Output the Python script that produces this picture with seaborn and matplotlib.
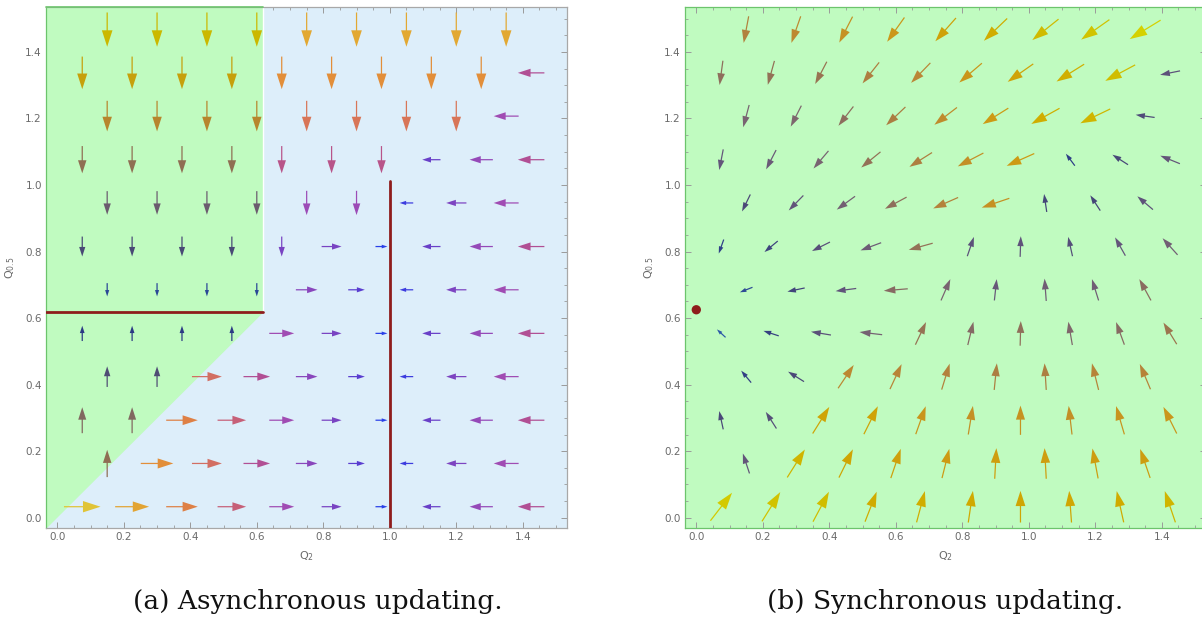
import numpy as np
import matplotlib
matplotlib.use("Agg")
import matplotlib.pyplot as plt
import seaborn as sns
from matplotlib.colors import LinearSegmentedColormap, Normalize
from matplotlib.ticker import MultipleLocator, FormatStrFormatter

# ---- grid of arrow centres (staggered rows) ----
row_y = [0.033, 0.163, 0.293, 0.424, 0.554, 0.685, 0.815, 0.946, 1.076, 1.207, 1.337, 1.467]
even_x = [0.075, 0.225, 0.375, 0.525, 0.675, 0.825, 0.975, 1.125, 1.275, 1.425]
odd_x = [0.15, 0.30, 0.45, 0.60, 0.75, 0.90, 1.05, 1.20, 1.35]

# ---- (a) asynchronous updating: arrow components per row (bottom -> top) ----
async_u = [
    [0.110, 0.102, 0.095, 0.086, 0.075, 0.060, 0.036, -0.055, -0.070, -0.080],
    [0.0, 0.098, 0.090, 0.080, 0.065, 0.050, -0.041, -0.061, -0.075],
    [0.0, 0.0, 0.095, 0.086, 0.075, 0.060, 0.036, -0.055, -0.070, -0.080],
    [0.0, 0.0, 0.090, 0.080, 0.065, 0.050, -0.041, -0.061, -0.075],
    [0.0, 0.0, 0.0, 0.0, 0.075, 0.060, 0.036, -0.055, -0.070, -0.080],
    [0.0, 0.0, 0.0, 0.0, 0.065, 0.050, -0.041, -0.061, -0.075],
    [0.0, 0.0, 0.0, 0.0, 0.0, 0.060, 0.036, -0.055, -0.070, -0.080],
    [0.0, 0.0, 0.0, 0.0, 0.0, 0.0, -0.041, -0.061, -0.075],
    [0.0, 0.0, 0.0, 0.0, 0.0, 0.0, 0.0, -0.055, -0.070, -0.080],
    [0.0, 0.0, 0.0, 0.0, 0.0, 0.0, 0.0, 0.0, -0.075],
    [0.0, 0.0, 0.0, 0.0, 0.0, 0.0, 0.0, 0.0, 0.0, -0.080],
    [0.0, 0.0, 0.0, 0.0, 0.0, 0.0, 0.0, 0.0, 0.0],
]
async_v = [
    [0.0] * 10,
    [0.082, 0.0, 0.0, 0.0, 0.0, 0.0, 0.0, 0.0, 0.0],
    [0.078, 0.078, 0.0, 0.0, 0.0, 0.0, 0.0, 0.0, 0.0, 0.0],
    [0.062, 0.062, 0.0, 0.0, 0.0, 0.0, 0.0, 0.0, 0.0],
    [0.046, 0.046, 0.046, 0.046, 0.0, 0.0, 0.0, 0.0, 0.0, 0.0],
    [-0.040, -0.040, -0.040, -0.040, 0.0, 0.0, 0.0, 0.0, 0.0],
    [-0.060, -0.060, -0.060, -0.060, -0.060, 0.0, 0.0, 0.0, 0.0, 0.0],
    [-0.071, -0.071, -0.071, -0.071, -0.073, -0.073, 0.0, 0.0, 0.0],
    [-0.082, -0.082, -0.082, -0.082, -0.082, -0.082, -0.082, 0.0, 0.0, 0.0],
    [-0.092, -0.092, -0.092, -0.092, -0.092, -0.092, -0.092, -0.092, 0.0],
    [-0.098, -0.098, -0.098, -0.098, -0.098, -0.098, -0.098, -0.098, -0.098, 0.0],
    [-0.103, -0.103, -0.103, -0.103, -0.103, -0.103, -0.103, -0.103, -0.103],
]

# ---- (b) synchronous updating ----
sync_uv = [
    [(0.065, 0.084), (0.055, 0.088), (0.048, 0.090), (0.035, 0.090), (0.025, 0.094),
     (0.014, 0.095), (0.000, 0.095), (-0.007, 0.095), (-0.021, 0.094), (-0.032, 0.094)],
    [(-0.020, 0.060), (0.053, 0.084), (0.042, 0.085), (0.030, 0.088), (0.022, 0.088),
     (0.005, 0.092), (-0.005, 0.092), (-0.017, 0.090), (-0.030, 0.087)],
    [(-0.012, 0.055), (-0.032, 0.050), (0.050, 0.080), (0.042, 0.084), (0.030, 0.084),
     (0.014, 0.086), (0.000, 0.088), (-0.010, 0.086), (-0.025, 0.085), (-0.040, 0.080)],
    [(-0.030, 0.036), (-0.048, 0.030), (0.047, 0.070), (0.035, 0.075), (0.024, 0.078),
     (0.008, 0.080), (-0.005, 0.080), (-0.020, 0.080), (-0.032, 0.076)],
    [(-0.026, 0.024), (-0.046, 0.015), (-0.060, 0.010), (-0.068, 0.008), (0.032, 0.068),
     (0.017, 0.070), (0.002, 0.074), (-0.012, 0.070), (-0.025, 0.068), (-0.040, 0.065)],
    [(-0.038, -0.015), (-0.052, -0.011), (-0.062, -0.008), (-0.072, -0.006), (0.028, 0.064),
     (0.007, 0.064), (-0.005, 0.067), (-0.020, 0.064), (-0.035, 0.064)],
    [(-0.015, -0.042), (-0.040, -0.033), (-0.054, -0.027), (-0.062, -0.023), (-0.072, -0.020),
     (0.020, 0.058), (0.002, 0.062), (-0.013, 0.058), (-0.031, 0.055), (-0.045, 0.050)],
    [(-0.025, -0.051), (-0.044, -0.045), (-0.055, -0.040), (-0.065, -0.035), (-0.075, -0.033),
     (-0.083, -0.028), (-0.008, 0.054), (-0.030, 0.046), (-0.047, 0.040)],
    [(-0.012, -0.062), (-0.030, -0.058), (-0.045, -0.053), (-0.058, -0.047), (-0.068, -0.043),
     (-0.077, -0.040), (-0.083, -0.037), (-0.027, 0.036), (-0.047, 0.030), (-0.059, 0.024)],
    [(-0.018, -0.067), (-0.032, -0.063), (-0.045, -0.058), (-0.058, -0.055), (-0.068, -0.052),
     (-0.077, -0.048), (-0.085, -0.047), (-0.090, -0.043), (-0.057, 0.008)],
    [(-0.010, -0.073), (-0.020, -0.072), (-0.035, -0.067), (-0.050, -0.063), (-0.058, -0.060),
     (-0.068, -0.058), (-0.077, -0.054), (-0.083, -0.052), (-0.090, -0.048), (-0.060, -0.012)],
    [(-0.015, -0.080), (-0.028, -0.080), (-0.040, -0.078), (-0.052, -0.073), (-0.062, -0.070),
     (-0.070, -0.067), (-0.079, -0.063), (-0.085, -0.060), (-0.093, -0.057)],
]

threshold = 0.618        # boundary of the green region / horizontal red line in (a)
vline_x, vline_top = 1.0, 1.012
fixed_point = (0.0, 0.625)  # red dot in (b)

xlim = (-0.034, 1.533)
ylim = (-0.031, 1.535)

# colour scales (arrow length -> colour)
green_stops = [(0.038, "#2a4a9c"), (0.046, "#2c3a84"), (0.058, "#424676"), (0.066, "#5c5272"),
               (0.074, "#74606c"), (0.083, "#927050"), (0.090, "#b07c38"), (0.096, "#c49418"),
               (0.100, "#c8ac00"), (0.106, "#cec400")]
blue_stops = [(0.036, "#2a40e8"), (0.045, "#4c3ad8"), (0.055, "#6a40c8"), (0.065, "#8a46bc"),
              (0.075, "#a04cb4"), (0.081, "#b4508e"), (0.086, "#c66078"), (0.092, "#d87458"),
              (0.097, "#e2883a"), (0.103, "#e2a832"), (0.111, "#e0c838")]
sync_stops = [(0.035, "#2c5aa8"), (0.045, "#2e3e86"), (0.055, "#464678"), (0.063, "#62547a"),
              (0.070, "#7a6470"), (0.076, "#9a7450"), (0.083, "#b88438"), (0.090, "#cc9818"),
              (0.096, "#d0a800"), (0.103, "#d0c000"), (0.110, "#d6d400")]


def make_scale(stops):
    lo, hi = stops[0][0], stops[-1][0]
    cmap = LinearSegmentedColormap.from_list(
        "s", [((s - lo) / (hi - lo), c) for s, c in stops])
    return cmap, Normalize(lo, hi, clip=True)


def draw_arrow(ax, x, y, u, v, cmap, norm):
    L = np.hypot(u, v)
    ax.arrow(x - u / 2, y - v / 2, u, v, width=0.0037, head_width=0.31 * L,
             head_length=0.48 * L, length_includes_head=True,
             color=cmap(norm(L)), lw=0, zorder=3)


sns.set_theme(style="ticks")
plt.rcParams["font.family"] = ["DejaVu Sans"]

grid_col = "#9a9a9a"
label_col = "#6a6a6a"
green_bg = "#c0fbc0"
blue_bg = "#ddeefa"
green_edge = "#6cc46c"
red = "#8e1c1c"

fig = plt.figure(figsize=(12.02, 6.2), dpi=100)
ax_a = fig.add_axes([46 / 1202, 92 / 620, 521 / 1202, 521 / 620])
ax_b = fig.add_axes([685 / 1202, 92 / 620, 521 / 1202, 521 / 620])

for ax in (ax_a, ax_b):
    ax.set_xlim(*xlim)
    ax.set_ylim(*ylim)
    ax.xaxis.set_major_locator(MultipleLocator(0.2))
    ax.yaxis.set_major_locator(MultipleLocator(0.2))
    ax.xaxis.set_minor_locator(MultipleLocator(0.05))
    ax.yaxis.set_minor_locator(MultipleLocator(0.05))
    ax.xaxis.set_major_formatter(FormatStrFormatter("%.1f"))
    ax.yaxis.set_major_formatter(FormatStrFormatter("%.1f"))
    ax.tick_params(which="both", direction="in", top=True, right=True,
                   color=grid_col, labelcolor=label_col, labelsize=7.5, pad=3)
    ax.tick_params(which="major", length=4, width=0.7)
    ax.tick_params(which="minor", length=2.5, width=0.6)
    for s in ax.spines.values():
        s.set_color("#a8a8a8")
        s.set_linewidth(0.9)
    ax.set_xlabel(r"Q$_2$", fontsize=8, color=label_col, labelpad=5)
    ax.set_ylabel(r"Q$_{0.5}$", fontsize=8, color=label_col, labelpad=6)

# ---- panel (a) ----
ax_a.set_facecolor(blue_bg)
xs_green = np.array([xlim[0], threshold])
ax_a.fill_between(xs_green, np.maximum(xs_green, ylim[0]), ylim[1], color=green_bg, lw=0, zorder=1)
ax_a.plot([threshold, threshold], [threshold, ylim[1]], color="white", lw=1.0, zorder=2)
ax_a.spines["left"].set_color(green_edge)
ax_a.plot([xlim[0], threshold], [ylim[1], ylim[1]], color=green_edge, lw=1.2, zorder=5, clip_on=False)

g_cmap, g_norm = make_scale(green_stops)
b_cmap, b_norm = make_scale(blue_stops)
for k, y in enumerate(row_y):
    xs = even_x if k % 2 == 0 else odd_x
    for x, u, v in zip(xs, async_u[k], async_v[k]):
        in_green = x < threshold and y > x
        cm, nm = (g_cmap, g_norm) if in_green else (b_cmap, b_norm)
        draw_arrow(ax_a, x, y, u, v, cm, nm)

ax_a.plot([xlim[0], threshold], [threshold, threshold], color=red, lw=2, zorder=4)
ax_a.plot([vline_x, vline_x], [ylim[0], vline_top], color=red, lw=2, zorder=4)

# ---- panel (b) ----
ax_b.set_facecolor(green_bg)
for s in ax_b.spines.values():
    s.set_color(green_edge)
s_cmap, s_norm = make_scale(sync_stops)
for k, y in enumerate(row_y):
    xs = even_x if k % 2 == 0 else odd_x
    for x, (u, v) in zip(xs, sync_uv[k]):
        draw_arrow(ax_b, x, y, u, v, s_cmap, s_norm)
sns.scatterplot(x=[fixed_point[0]], y=[fixed_point[1]], ax=ax_b, color=red, s=45,
                edgecolor="none", zorder=5)

fig.text(318 / 1202, 1 - 601 / 620, "(a) Asynchronous updating.", ha="center", va="center",
         fontsize=19, family="DejaVu Serif", color="#111111")
fig.text(945 / 1202, 1 - 601 / 620, "(b) Synchronous updating.", ha="center", va="center",
         fontsize=19, family="DejaVu Serif", color="#111111")

fig.savefig("out.png", dpi=100)
